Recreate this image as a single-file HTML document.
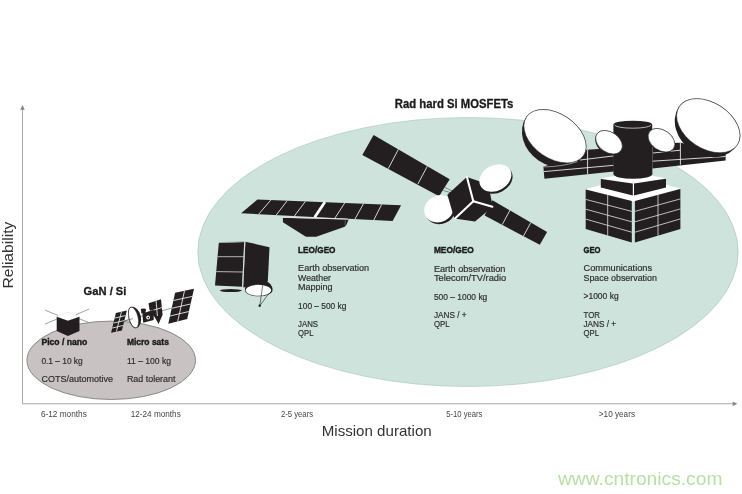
<!DOCTYPE html>
<html><head><meta charset="utf-8"><title>Mission duration vs reliability</title>
<style>
html,body{margin:0;padding:0;background:#fff;}
body{width:742px;height:494px;overflow:hidden;}
svg{display:block;will-change:transform;}
text{font-family:"Liberation Sans",sans-serif;}
.r{font-size:8.6px;fill:#2d2d2d;stroke:#2d2d2d;stroke-width:0.18;transform:translate(0,0.3px);}
.b{font-size:8.5px;font-weight:bold;fill:#1a1a1a;stroke:#1a1a1a;stroke-width:0.4;transform:translate(0,0.3px);}
.ax{font-size:8.2px;fill:#444;}
.k{fill:#231f20;}
.w{fill:#fff;}
.wl{stroke:#e8e8e8;stroke-width:0.9;fill:none;}
</style></head><body>
<svg width="742" height="494" viewBox="0 0 742 494">
<rect width="742" height="494" fill="#fff"/>

<!-- big ellipse -->
<ellipse cx="468" cy="252" rx="270.2" ry="134.5" fill="#cde3dc" stroke="#a8c4bb" stroke-width="0.6"/>
<!-- small ellipse -->
<ellipse cx="111.2" cy="360.3" rx="84.3" ry="39.2" fill="#c8c2c3" stroke="#777273" stroke-width="0.8"/>

<!-- axes -->
<g stroke="#a9a9a9" stroke-width="1" fill="none">
<line x1="22.5" y1="403.8" x2="22.5" y2="108"/>
<line x1="22.5" y1="403.8" x2="733" y2="403.8"/>
</g>
<polygon points="22.5,105 20.2,109.7 24.8,109.7" fill="#858585"/>
<polygon points="737.4,403.8 732.7,401.6 732.7,406" fill="#858585"/>

<!-- titles -->
<text x="394.8" y="107.8" font-size="12px" font-weight="bold" fill="#1a1a1a" stroke="#1a1a1a" stroke-width="0.3" textLength="118.6" lengthAdjust="spacingAndGlyphs">Rad hard Si MOSFETs</text>
<text x="83.6" y="294.8" font-size="11.6px" font-weight="bold" fill="#1a1a1a" stroke="#1a1a1a" stroke-width="0.3" textLength="42.8" lengthAdjust="spacingAndGlyphs">GaN / Si</text>
<text x="321.7" y="435.6" font-size="14.5px" fill="#333" textLength="110" lengthAdjust="spacingAndGlyphs">Mission duration</text>
<text transform="translate(13.3,288.6) rotate(-90)" font-size="14.2px" fill="#333" textLength="67" lengthAdjust="spacingAndGlyphs">Reliability</text>

<!-- axis labels -->
<text class="ax" x="40.9" y="417.2" textLength="45.9" lengthAdjust="spacingAndGlyphs">6-12 months</text>
<text class="ax" x="130.7" y="417.2" textLength="50.1" lengthAdjust="spacingAndGlyphs">12-24 months</text>
<text class="ax" x="280.9" y="417.2" textLength="32.2" lengthAdjust="spacingAndGlyphs">2-5 years</text>
<text class="ax" x="446.3" y="417.2" textLength="36.1" lengthAdjust="spacingAndGlyphs">5-10 years</text>
<text class="ax" x="598.8" y="417.2" textLength="36.2" lengthAdjust="spacingAndGlyphs">&gt;10 years</text>

<!-- small ellipse text -->
<text class="b" x="41.4" y="345.1" textLength="45.9" lengthAdjust="spacingAndGlyphs">Pico / nano</text>
<text class="r" x="41.4" y="363.3" textLength="41.3" lengthAdjust="spacingAndGlyphs">0.1 – 10 kg</text>
<text class="r" x="41.4" y="381.5" textLength="71.6" lengthAdjust="spacingAndGlyphs">COTS/automotive</text>
<text class="b" x="126.9" y="345.1" textLength="42" lengthAdjust="spacingAndGlyphs">Micro sats</text>
<text class="r" x="126.9" y="363.3" textLength="44.2" lengthAdjust="spacingAndGlyphs">11 – 100 kg</text>
<text class="r" x="126.9" y="381.5" textLength="48.6" lengthAdjust="spacingAndGlyphs">Rad tolerant</text>

<!-- LEO text -->
<text class="b" x="298.1" y="252.9" textLength="37.4" lengthAdjust="spacingAndGlyphs">LEO/GEO</text>
<text class="r" x="298.1" y="271" textLength="71" lengthAdjust="spacingAndGlyphs">Earth observation</text>
<text class="r" x="298.1" y="280.3" textLength="32.8" lengthAdjust="spacingAndGlyphs">Weather</text>
<text class="r" x="298.1" y="289.5" textLength="34.5" lengthAdjust="spacingAndGlyphs">Mapping</text>
<text class="r" x="298.1" y="308.4" textLength="48.3" lengthAdjust="spacingAndGlyphs">100 – 500 kg</text>
<text class="r" x="298.1" y="326.8" textLength="20" lengthAdjust="spacingAndGlyphs">JANS</text>
<text class="r" x="298.1" y="335.8" textLength="15.3" lengthAdjust="spacingAndGlyphs">QPL</text>

<!-- MEO text -->
<text class="b" x="433.9" y="253.1" textLength="40" lengthAdjust="spacingAndGlyphs">MEO/GEO</text>
<text class="r" x="433.9" y="271.6" textLength="71.5" lengthAdjust="spacingAndGlyphs">Earth observation</text>
<text class="r" x="433.9" y="280.8" textLength="72.4" lengthAdjust="spacingAndGlyphs">Telecom/TV/radio</text>
<text class="r" x="433.9" y="299.5" textLength="53.4" lengthAdjust="spacingAndGlyphs">500 – 1000 kg</text>
<text class="r" x="433.9" y="318.1" textLength="32.6" lengthAdjust="spacingAndGlyphs">JANS / +</text>
<text class="r" x="433.9" y="327.2" textLength="15.6" lengthAdjust="spacingAndGlyphs">QPL</text>

<!-- GEO text -->
<text class="b" x="583.5" y="252.9" textLength="17" lengthAdjust="spacingAndGlyphs">GEO</text>
<text class="r" x="583.5" y="271" textLength="68.5" lengthAdjust="spacingAndGlyphs">Communications</text>
<text class="r" x="583.5" y="280.3" textLength="73.4" lengthAdjust="spacingAndGlyphs">Space observation</text>
<text class="r" x="583.5" y="298.6" textLength="35.1" lengthAdjust="spacingAndGlyphs">&gt;1000 kg</text>
<text class="r" x="583.5" y="317.3" textLength="16.4" lengthAdjust="spacingAndGlyphs">TOR</text>
<text class="r" x="583.5" y="326.8" textLength="32.6" lengthAdjust="spacingAndGlyphs">JANS / +</text>
<text class="r" x="583.5" y="335.8" textLength="15.5" lengthAdjust="spacingAndGlyphs">QPL</text>

<!-- watermark -->
<text x="558" y="484.9" font-size="19px" fill="#b9dea6" textLength="164.4" lengthAdjust="spacingAndGlyphs">www.cntronics.com</text>

<!-- PICO -->
<g id="pico">
<g stroke="#777" stroke-width="0.7" fill="none">
<line x1="45.1" y1="310.2" x2="58" y2="315.4"/>
<line x1="45.1" y1="324.1" x2="57" y2="319"/>
<line x1="76" y1="314.7" x2="89.1" y2="309"/>
<line x1="79" y1="318.6" x2="88.6" y2="322.5"/>
</g>
<polygon class="w" points="56.7,316.7 67.9,312.2 79.5,316.7 67.9,320.8" stroke="#ccc" stroke-width="0.4"/>
<polygon class="k" points="56.7,316.7 67.9,320.8 79.5,316.7 79.5,330.9 67.9,336 56.7,330.9"/>
</g>

<!-- MICRO -->
<g id="micro">
<line x1="124" y1="321" x2="176" y2="307" stroke="#555" stroke-width="0.6"/>
<polygon class="k" points="115.9,313 126.9,310.5 121.9,330.4 111.1,332.8"/>
<g class="wl" stroke-width="0.7">
<line x1="121.5" y1="311.8" x2="116.4" y2="331.6"/>
<line x1="115.1" y1="318" x2="125.4" y2="315.6"/>
<line x1="113.8" y1="323" x2="124.2" y2="320.6"/>
<line x1="112.4" y1="328" x2="123" y2="325.5"/>
</g>
<polygon class="k" points="148.5,303.3 161,299.3 162.6,314.7 158.6,324 154.9,317.5 149.6,310"/>
<g class="wl" stroke-width="0.7">
<line x1="156.1" y1="301" x2="157.4" y2="316"/>
<line x1="149.3" y1="311.4" x2="162.6" y2="307.4"/>
</g>
<polygon class="k" points="142.4,313.5 153.7,309.8 153.7,319.9 143.2,322.8"/>
<ellipse class="k" cx="143.4" cy="309.9" rx="2.8" ry="1.3"/>
<rect class="k" x="141.2" y="309.9" width="4.4" height="3.5"/>
<circle cx="148.1" cy="317.5" r="1.9" fill="#fff"/>
<circle cx="148.3" cy="317.6" r="0.9" class="k"/>
<g transform="translate(133.5,317.5) rotate(-14)">
<path class="k" d="M0,-11 A7.4,11 0 0 1 0,11 A5,11 0 0 1 0,-11Z"/>
<ellipse cx="0" cy="0" rx="4.5" ry="10.6" fill="#fff" stroke="#231f20" stroke-width="0.5"/>
</g>
<line x1="125" y1="320.8" x2="133" y2="318.6" stroke="#555" stroke-width="0.6"/>
<polygon class="k" points="175.1,292.8 194,288.8 187.2,319.1 168.3,323.8"/>
<g class="wl" stroke-width="0.8">
<line x1="184.5" y1="290.8" x2="177.7" y2="321.4"/>
<line x1="173.4" y1="300.5" x2="192.3" y2="296.4"/>
<line x1="171.7" y1="308.3" x2="190.6" y2="304"/>
<line x1="170" y1="316" x2="188.9" y2="311.5"/>
</g>
</g>

<!-- LEO -->
<g id="leo">
<polygon class="k" points="257.4,199.5 401.1,205.2 392.6,220.9 241.1,213.3"/>
<g class="wl" stroke-width="0.8">
<line x1="270.8" y1="200" x2="258.7" y2="214.2"/>
<line x1="287.2" y1="200.7" x2="276.2" y2="215.1"/>
<line x1="305.4" y1="201.4" x2="294.4" y2="216"/>
<line x1="344.7" y1="203" x2="335" y2="218"/>
<line x1="363.5" y1="203.7" x2="355" y2="219"/>
<line x1="381.7" y1="204.4" x2="373.8" y2="220"/>
</g>
<line x1="324.9" y1="202" x2="314.7" y2="217.2" stroke="#fff" stroke-width="2.8"/>
<polygon class="k" points="282.9,217.8 345.4,219.4 348.6,219.4 346.6,224.6 344.7,226.8 316.2,236.8 305.9,236.8 282.9,222.2"/>
<line x1="282.9" y1="217.3" x2="348" y2="219" stroke="#e6e6e6" stroke-width="0.8"/>
<line x1="345.4" y1="219.4" x2="345" y2="225" stroke="#999" stroke-width="0.5"/>
<!-- box -->
<ellipse cx="230.8" cy="290.6" rx="11" ry="1.5" class="k"/>
<polygon class="k" points="218.8,242.9 244.2,242 242,286.8 215,285.4"/>
<polygon class="k" points="245.4,241.7 269.5,247.2 267.8,281.6 243.2,287.6"/>
<g stroke="#d8d8d8" stroke-width="0.8" fill="none">
<line x1="217.6" y1="256.7" x2="243.5" y2="256.7"/>
<line x1="216.3" y1="271.6" x2="242.8" y2="272"/>
<line x1="244.8" y1="242" x2="242.6" y2="287"/>
<line x1="218.8" y1="242.6" x2="244.5" y2="241.7" stroke="#999"/>
</g>
<!-- dish -->
<g stroke="#231f20" stroke-width="0.6" fill="none">
<line x1="271" y1="290.5" x2="260" y2="305.5"/>
</g>
<circle cx="259.7" cy="305.7" r="1.2" class="k"/>
<path class="k" d="M244.9,290 A13.8,10.5 0 0 1 272.6,290 A13.8,6.3 0 0 1 244.9,290Z"/>
<ellipse cx="258.4" cy="290.3" rx="12.7" ry="5.5" fill="#fff"/>
<g stroke="#231f20" stroke-width="0.6" fill="none">
<line x1="262.7" y1="285.2" x2="259.9" y2="305"/>
</g>
</g>

<!-- MEO -->
<g id="meo">
<polygon class="k" points="373.6,135 362.3,154.9 439.1,196.2 449.7,179.2"/>
<g class="wl" stroke-width="0.7">
<line x1="398.4" y1="149.3" x2="388.2" y2="168.7"/>
<line x1="427.3" y1="166.3" x2="417.8" y2="184.1"/>
</g>
<polygon class="k" points="492.5,200.3 484.6,215.5 539.8,244.7 547.1,231.9"/>
<g class="wl" stroke-width="0.7">
<line x1="510.1" y1="210" x2="502.2" y2="224.6"/>
<line x1="530.7" y1="222.8" x2="523.4" y2="236.2"/>
</g>
<g stroke="#231f20" stroke-width="0.5" fill="none">
<line x1="445" y1="187.5" x2="457" y2="193.3"/>
<line x1="443.5" y1="190.5" x2="456.5" y2="194.5"/>
<circle cx="457.6" cy="193.8" r="1.2"/>
</g>
<!-- lower-left dish -->
<g transform="translate(439,208.8) rotate(-28)">
<ellipse cx="0.6" cy="2.1" rx="15.4" ry="13.4" class="k"/>
<ellipse cx="0" cy="0" rx="15.2" ry="13.2" class="w"/>
</g>
<!-- body -->
<polygon class="k" points="466.8,176.9 447.4,194.7 454.3,218.6 475,221.4 492.8,206.8 489,188 480,181.5"/>
<g stroke="#fff" stroke-width="2.1" fill="none" stroke-linecap="round">
<line x1="467" y1="177.3" x2="473.3" y2="201.2"/>
<line x1="473.3" y1="201.2" x2="455" y2="218.6"/>
<line x1="473.3" y1="201.2" x2="492.4" y2="206.8"/>
</g>
<!-- upper-right dish -->
<g transform="translate(495.4,178) rotate(-28)">
<ellipse cx="0" cy="2.1" rx="17" ry="12.9" class="k"/>
<ellipse cx="0" cy="0" rx="16.8" ry="12.7" class="w"/>
</g>
</g>

<!-- GEO -->
<g id="geo">
<!-- panels -->
<path class="k" d="M543.4,166.7 L556,162 L587,149.8 L613.8,148 L613.8,171.4 L544.4,178.8Z"/>
<g class="wl" stroke-width="0.7">
<line x1="543.8" y1="171.6" x2="613.8" y2="165.3"/>
<line x1="580" y1="160" x2="613.8" y2="155.9"/>
<line x1="587.6" y1="149.8" x2="587.6" y2="174.1"/>
</g>
<path class="k" d="M652.4,143 L681,142.8 L725.6,153.5 L725.6,160.5 L652.4,168.5Z"/>
<g class="wl" stroke-width="0.7">
<line x1="652.4" y1="161.2" x2="725.6" y2="156.5"/>
<line x1="653" y1="153" x2="680.4" y2="150.2"/>
<line x1="680.4" y1="142.8" x2="680.4" y2="164.7"/>
</g>
<!-- lower cube -->
<polygon class="w" points="585.7,189.2 633.3,176 680.4,188.5 633.3,201.5"/>
<polygon class="k" points="585.7,189.6 631.8,201 631.8,242.6 585.7,228.9"/>
<polygon class="k" points="634.9,201 680.4,188.9 680.4,228.9 634.9,242.6"/>
<g stroke="#e4e4e4" stroke-width="0.8" fill="none">
<line x1="607.7" y1="195" x2="607.7" y2="235.5"/>
<line x1="585.7" y1="199.4" x2="631.8" y2="211.4"/>
<line x1="585.7" y1="209.2" x2="631.8" y2="221.8"/>
<line x1="585.7" y1="219.1" x2="631.8" y2="232.2"/>
<line x1="658" y1="194.9" x2="658" y2="235.6"/>
<line x1="634.9" y1="211.4" x2="680.4" y2="198.9"/>
<line x1="634.9" y1="221.8" x2="680.4" y2="208.9"/>
<line x1="634.9" y1="232.2" x2="680.4" y2="218.9"/>
</g>
<!-- platform -->
<polygon class="w" points="600.8,178.6 633.4,172.5 666,178.3 633.4,183.6"/>
<polygon class="k" points="600.8,179.1 632.8,183.6 632.8,195.5 600.8,187.4"/>
<polygon class="k" points="634,183.6 666,178.8 666,187.4 634,195.5"/>
<!-- cylinder -->
<path class="k" d="M613.4,124.4 A19.4,3.7 0 0 1 652.2,124.4 L652.4,174 A19.5,4.8 0 0 1 613.4,174Z"/>
<path d="M614.6,124.8 A18.2,3.4 0 0 0 651,124.8" fill="none" stroke="#d4d4d4" stroke-width="0.8"/>
<!-- small dishes -->
<g transform="translate(609,142.2) rotate(35)">
<path class="k" d="M-14.8,0 A14.8,11.6 0 0 0 14.8,0 A14.8,10.3 0 0 0 -14.8,0Z"/>
<ellipse cx="0" cy="0" rx="14.6" ry="10.1" fill="#fff" stroke="#231f20" stroke-width="0.5"/>
</g>
<g transform="translate(661.5,140.2) rotate(35)">
<path class="k" d="M-14.8,0 A14.8,11.2 0 0 0 14.8,0 A14.8,10.3 0 0 0 -14.8,0Z"/>
<ellipse cx="0" cy="0" rx="14.6" ry="10.1" fill="#fff" stroke="#231f20" stroke-width="0.5"/>
</g>
<!-- big dishes -->
<g transform="translate(555,136.2) rotate(34)">
<path class="k" d="M-34.6,0 A34.6,29.4 0 0 0 34.6,0 A34.6,22.5 0 0 0 -34.6,0Z"/>
<ellipse cx="0" cy="0" rx="34.4" ry="22.3" fill="#fff" stroke="#231f20" stroke-width="0.45"/>
</g>
<path d="M544.2,166.9 Q563,166.6 577.5,161.6" fill="none" stroke="#dcdcdc" stroke-width="0.6"/>
<g transform="translate(708.3,125.7) rotate(33.2)">
<path class="k" d="M-35,0 A35,29.8 0 0 0 35,0 A35,23.2 0 0 0 -35,0Z"/>
<ellipse cx="0" cy="0" rx="34.8" ry="23" fill="#fff" stroke="#231f20" stroke-width="0.5"/>
</g>
</g>
</svg>
</body></html>
